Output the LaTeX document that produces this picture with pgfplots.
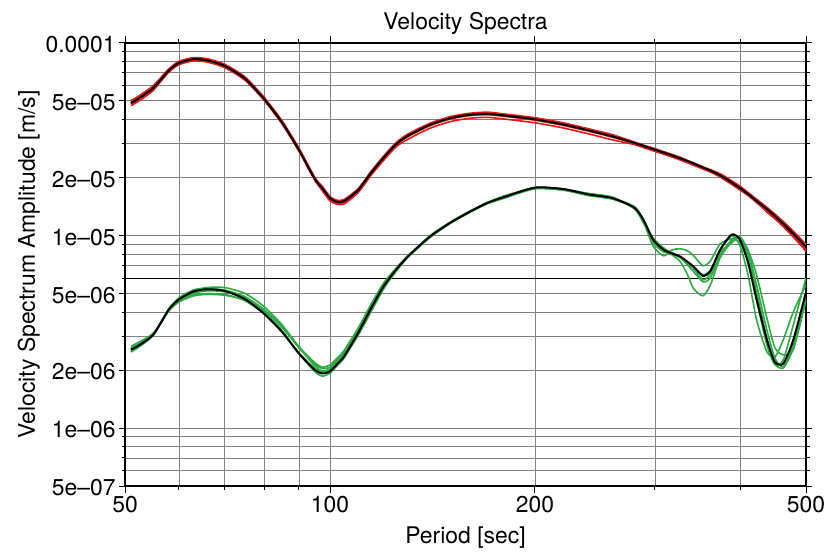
\documentclass[border=0pt]{standalone}
\usepackage{pgfplots}
\pgfplotsset{compat=1.18}
\usepackage{pgfplotstable}
\usepackage{fontspec}
\setmainfont{TeX Gyre Heros}
\definecolor{sred}{RGB}{230,25,25}
\definecolor{sgreen}{RGB}{45,170,65}
\newcommand{\lab}{\fontsize{23}{27}\selectfont}

\pgfplotstableread{
T RM R1 R2 R3 R4 GM G1 G2 G3 G4 G5
51 4.87e-5 5.02e-5 4.72e-5 4.92e-5 4.82e-5 2.56e-6 2.66e-6 2.51e-6 2.61e-6 2.48e-6 2.59e-6
52 5.05e-5 5.20e-5 4.90e-5 5.10e-5 5.00e-5 2.64e-6 2.75e-6 2.59e-6 2.69e-6 2.59e-6 2.67e-6
55 5.82e-5 5.99e-5 5.65e-5 5.88e-5 5.76e-5 3.05e-6 3.11e-6 3.02e-6 3.05e-6 3.05e-6 3.08e-6
58 7.18e-5 7.32e-5 7.11e-5 7.25e-5 7.04e-5 4.13e-6 4.05e-6 4.13e-6 4.09e-6 4.17e-6 4.13e-6
60 7.85e-5 8.01e-5 7.77e-5 7.93e-5 7.69e-5 4.65e-6 4.51e-6 4.70e-6 4.60e-6 4.74e-6 4.56e-6
63 8.21e-5 8.37e-5 8.13e-5 8.29e-5 8.05e-5 5.11e-6 4.85e-6 5.16e-6 5.01e-6 5.21e-6 4.91e-6
66 8.10e-5 8.26e-5 8.02e-5 8.18e-5 7.94e-5 5.25e-6 4.94e-6 5.36e-6 5.15e-6 5.30e-6 4.99e-6
70 7.59e-5 7.74e-5 7.51e-5 7.67e-5 7.44e-5 5.15e-6 4.89e-6 5.36e-6 5.10e-6 5.20e-6 4.94e-6
75 6.52e-5 6.65e-5 6.45e-5 6.59e-5 6.39e-5 4.67e-6 4.62e-6 5.00e-6 4.72e-6 4.81e-6 4.58e-6
80 5.11e-5 5.21e-5 5.06e-5 5.16e-5 5.03e-5 3.92e-6 4.08e-6 4.27e-6 4.00e-6 4.12e-6 3.92e-6
85 3.86e-5 3.94e-5 3.82e-5 3.90e-5 3.80e-5 3.16e-6 3.35e-6 3.44e-6 3.22e-6 3.35e-6 3.16e-6
90 2.78e-5 2.84e-5 2.75e-5 2.81e-5 2.74e-5 2.44e-6 2.61e-6 2.64e-6 2.44e-6 2.64e-6 2.46e-6
95 1.96e-5 2.00e-5 1.94e-5 1.98e-5 1.93e-5 2.00e-6 2.14e-6 2.10e-6 1.96e-6 2.18e-6 2.04e-6
97.5 1.75e-5 1.79e-5 1.70e-5 1.73e-5 1.72e-5 1.92e-6 2.04e-6 1.98e-6 1.86e-6 2.07e-6 1.96e-6
100 1.56e-5 1.59e-5 1.51e-5 1.54e-5 1.54e-5 1.97e-6 2.07e-6 2.03e-6 1.93e-6 2.13e-6 2.01e-6
102.5 1.49e-5 1.52e-5 1.45e-5 1.48e-5 1.47e-5 2.15e-6 2.26e-6 2.23e-6 2.11e-6 2.31e-6 2.17e-6
105 1.51e-5 1.54e-5 1.46e-5 1.49e-5 1.49e-5 2.37e-6 2.49e-6 2.46e-6 2.32e-6 2.54e-6 2.37e-6
110 1.72e-5 1.75e-5 1.67e-5 1.70e-5 1.69e-5 3.12e-6 3.24e-6 3.24e-6 3.06e-6 3.31e-6 3.03e-6
115 2.12e-5 2.16e-5 2.06e-5 2.10e-5 2.09e-5 4.21e-6 4.34e-6 4.34e-6 4.13e-6 4.42e-6 4.04e-6
120 2.54e-5 2.59e-5 2.46e-5 2.51e-5 2.50e-5 5.47e-6 5.58e-6 5.58e-6 5.42e-6 5.69e-6 5.31e-6
125 2.97e-5 3.03e-5 2.88e-5 2.94e-5 2.93e-5 6.62e-6 6.69e-6 6.69e-6 6.62e-6 6.75e-6 6.49e-6
130 3.28e-5 3.35e-5 3.15e-5 3.31e-5 3.25e-5 7.74e-6 7.82e-6 7.74e-6 7.74e-6 7.82e-6 7.66e-6
140 3.74e-5 3.81e-5 3.59e-5 3.78e-5 3.70e-5 9.82e-6 9.82e-6 9.72e-6 9.92e-6 9.82e-6 9.72e-6
150 4.05e-5 4.13e-5 3.89e-5 4.09e-5 4.01e-5 1.16e-5 1.16e-5 1.15e-5 1.17e-5 1.16e-5 1.16e-5
160 4.22e-5 4.30e-5 4.05e-5 4.26e-5 4.18e-5 1.32e-5 1.32e-5 1.31e-5 1.33e-5 1.31e-5 1.32e-5
170 4.27e-5 4.36e-5 4.10e-5 4.31e-5 4.23e-5 1.47e-5 1.46e-5 1.46e-5 1.48e-5 1.46e-5 1.47e-5
180 4.19e-5 4.27e-5 4.02e-5 4.23e-5 4.15e-5 1.58e-5 1.56e-5 1.56e-5 1.60e-5 1.58e-5 1.58e-5
200 4.00e-5 4.08e-5 3.84e-5 4.04e-5 3.96e-5 1.77e-5 1.75e-5 1.75e-5 1.77e-5 1.77e-5 1.75e-5
220 3.76e-5 3.84e-5 3.61e-5 3.80e-5 3.72e-5 1.74e-5 1.72e-5 1.72e-5 1.74e-5 1.74e-5 1.72e-5
240 3.50e-5 3.57e-5 3.36e-5 3.54e-5 3.47e-5 1.63e-5 1.63e-5 1.61e-5 1.65e-5 1.63e-5 1.61e-5
260 3.26e-5 3.33e-5 3.13e-5 3.29e-5 3.23e-5 1.56e-5 1.56e-5 1.54e-5 1.58e-5 1.56e-5 1.56e-5
280 3.02e-5 3.05e-5 2.96e-5 3.02e-5 3.00e-5 1.39e-5 1.41e-5 1.39e-5 1.37e-5 1.39e-5 1.39e-5
289 2.91e-5 2.94e-5 2.85e-5 2.91e-5 2.90e-5 1.19e-5 1.20e-5 1.17e-5 1.15e-5 1.19e-5 1.19e-5
298 2.81e-5 2.84e-5 2.75e-5 2.81e-5 2.80e-5 9.53e-6 9.48e-6 8.82e-6 9.15e-6 9.71e-6 9.37e-6
309 2.69e-5 2.72e-5 2.64e-5 2.69e-5 2.68e-5 8.41e-6 8.31e-6 7.83e-6 8.21e-6 8.61e-6 8.41e-6
318 2.60e-5 2.63e-5 2.55e-5 2.60e-5 2.59e-5 8.06e-6 7.92e-6 8.41e-6 8.02e-6 8.11e-6 8.02e-6
327 2.51e-5 2.54e-5 2.46e-5 2.51e-5 2.50e-5 7.75e-6 7.29e-6 8.51e-6 7.64e-6 7.74e-6 7.74e-6
335 2.43e-5 2.45e-5 2.38e-5 2.43e-5 2.42e-5 7.29e-6 6.24e-6 8.31e-6 7.03e-6 7.20e-6 7.29e-6
342 2.36e-5 2.38e-5 2.31e-5 2.36e-5 2.35e-5 6.88e-6 5.28e-6 7.83e-6 6.47e-6 6.71e-6 6.86e-6
353 2.25e-5 2.27e-5 2.21e-5 2.25e-5 2.24e-5 6.16e-6 4.86e-6 6.95e-6 5.74e-6 5.88e-6 6.24e-6
362 2.17e-5 2.19e-5 2.13e-5 2.17e-5 2.16e-5 6.54e-6 5.54e-6 7.38e-6 6.02e-6 6.31e-6 6.62e-6
374 2.05e-5 2.09e-5 2.01e-5 2.02e-5 2.06e-5 8.41e-6 7.64e-6 9.03e-6 7.92e-6 8.41e-6 8.21e-6
389 1.88e-5 1.92e-5 1.84e-5 1.85e-5 1.89e-5 1.01e-5 9.25e-6 9.59e-6 9.48e-6 9.94e-6 9.15e-6
400 1.76e-5 1.80e-5 1.72e-5 1.73e-5 1.77e-5 9.48e-6 9.71e-6 9.15e-6 9.82e-6 8.82e-6 9.82e-6
411 1.64e-5 1.67e-5 1.61e-5 1.62e-5 1.65e-5 7.24e-6 8.21e-6 7.29e-6 8.41e-6 6.24e-6 7.83e-6
423 1.51e-5 1.54e-5 1.48e-5 1.49e-5 1.52e-5 4.66e-6 5.54e-6 4.63e-6 6.24e-6 3.64e-6 5.09e-6
438 1.37e-5 1.40e-5 1.34e-5 1.32e-5 1.38e-5 2.87e-6 3.23e-6 2.70e-6 3.73e-6 2.49e-6 2.94e-6
450 1.26e-5 1.29e-5 1.23e-5 1.22e-5 1.27e-5 2.20e-6 2.31e-6 2.13e-6 2.61e-6 2.34e-6 2.16e-6
463 1.15e-5 1.18e-5 1.13e-5 1.11e-5 1.16e-5 2.16e-6 2.08e-6 2.26e-6 2.40e-6 2.87e-6 2.05e-6
479 1.02e-5 1.05e-5 1.00e-5 0.98e-5 1.03e-5 2.87e-6 2.70e-6 3.43e-6 2.55e-6 4.01e-6 2.61e-6
500 8.72e-6 8.98e-6 8.37e-6 8.28e-6 8.72e-6 5.09e-6 4.63e-6 6.02e-6 4.63e-6 5.54e-6 5.03e-6
}\spectra

\begin{document}
\begin{tikzpicture}
\begin{axis}[
  name=ax,
  scale only axis, width=681bp, height=443.3bp,
  xmode=log, ymode=log,
  xmin=50, xmax=500, ymin=5e-7, ymax=1e-4,
  xtick={50,100,200,500}, xticklabels={50,100,200,500},
  minor xtick={60,70,80,90,300,400},
  ytick={5e-7,1e-6,2e-6,5e-6,1e-5,2e-5,5e-5,1e-4},
  yticklabels={5e--07,1e--06,2e--06,5e--06,1e--05,2e--05,5e--05,0.0001},
  minor ytick={6e-7,7e-7,8e-7,9e-7,3e-6,4e-6,6e-6,7e-6,8e-6,9e-6,3e-5,4e-5,6e-5,7e-5,8e-5,9e-5},
  grid=both,
  major grid style={line width=0.7bp, black!50},
  minor grid style={line width=0.7bp, black!50},
  axis line style={line width=2bp},
  tick style={black, line width=1bp},
  tick align=outside,
  major tick length=6.5bp, minor tick length=3.5bp,
  ticklabel style={font=\lab},
  xticklabel style={anchor=base, inner sep=0pt, yshift=-20bp},
  yticklabel style={anchor=base east, inner sep=0pt, xshift=-2.7bp, yshift=-9.8bp},
  title={Velocity Spectra},
  xlabel={Period [sec]},
  ylabel={Velocity Spectrum Amplitude [m/s]},
  every axis title/.style={at={(axis description cs:0.5,1.0287)}, anchor=base, font=\lab, inner sep=0pt},
  every axis x label/.style={at={(axis description cs:0.5,-0.1286)}, anchor=base, font=\lab, inner sep=0pt},
  every axis y label/.style={at={(axis description cs:-0.1322,0.5)}, rotate=90, anchor=base, font=\lab, inner sep=0pt},
]
\addplot[black, line width=0.8bp] coordinates {(50,6e-6) (500,6e-6)};
\addplot[sred, line width=1.6bp, smooth, tension=0.4] table[x=T,y=R1]{\spectra};
\addplot[sred, line width=1.6bp, smooth, tension=0.4] table[x=T,y=R2]{\spectra};
\addplot[sred, line width=1.6bp, smooth, tension=0.4] table[x=T,y=R3]{\spectra};
\addplot[sred, line width=1.6bp, smooth, tension=0.4] table[x=T,y=R4]{\spectra};
\addplot[black, line width=2bp, smooth, tension=0.4] table[x=T,y=RM]{\spectra};
\addplot[sgreen, line width=1.6bp, smooth, tension=0.4] table[x=T,y=G1]{\spectra};
\addplot[sgreen, line width=1.6bp, smooth, tension=0.4] table[x=T,y=G2]{\spectra};
\addplot[sgreen, line width=1.6bp, smooth, tension=0.4] table[x=T,y=G3]{\spectra};
\addplot[sgreen, line width=1.6bp, smooth, tension=0.4] table[x=T,y=G4]{\spectra};
\addplot[sgreen, line width=1.6bp, smooth, tension=0.4] table[x=T,y=G5]{\spectra};
\addplot[black, line width=2bp, smooth, tension=0.4] table[x=T,y=GM]{\spectra};
\end{axis}
\pgfresetboundingbox
\path[use as bounding box] ([xshift=-125bp,yshift=-67bp]ax.south west) rectangle ([xshift=24bp,yshift=42.7bp]ax.north east);
\end{tikzpicture}
\end{document}
